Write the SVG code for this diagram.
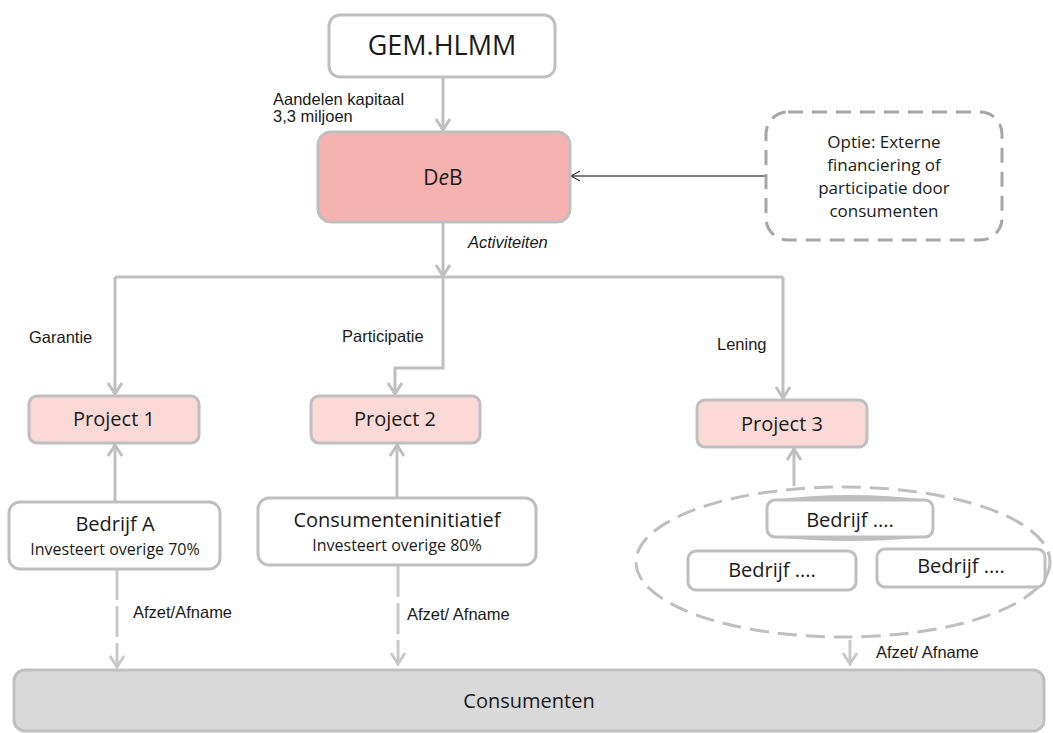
<svg xmlns="http://www.w3.org/2000/svg" width="1053" height="733" viewBox="0 0 1053 733">
<style>
.box{stroke:#bfbfbf;stroke-width:3}
.white{fill:#ffffff}
.pink{fill:#fad9d7}
.red{fill:#f5b2ae}
.grey{fill:#d9d9d9}
.t{font-family:"Open Sans","Noto Sans","DejaVu Sans",sans-serif;fill:#1a1a1a;text-anchor:middle}
.lbl{font-family:"Liberation Sans",Arial,sans-serif;font-size:16.5px;fill:#1a1a1a}
.con{fill:none;stroke:#bfbfbf;stroke-width:3;marker-end:url(#ah)}
.dash{fill:none;stroke:#c9c9c9;stroke-width:3;stroke-dasharray:31 6;marker-end:url(#ahl)}
</style>
<defs>
<marker id="ah" markerUnits="userSpaceOnUse" viewBox="-14 -10 16 20" refX="0" refY="0" markerWidth="16" markerHeight="20" orient="auto">
<path d="M-11,-7 L0,0 L-11,7" fill="none" stroke="#bfbfbf" stroke-width="3"/>
</marker>
<marker id="ahl" markerUnits="userSpaceOnUse" viewBox="-14 -10 16 20" refX="0" refY="0" markerWidth="16" markerHeight="20" orient="auto">
<path d="M-11,-7 L0,0 L-11,7" fill="none" stroke="#c9c9c9" stroke-width="3"/>
</marker>
<marker id="ahb" markerUnits="userSpaceOnUse" viewBox="-12 -8 14 16" refX="0" refY="0" markerWidth="14" markerHeight="16" orient="auto">
<path d="M-9,-5 L0,0 L-9,5" fill="none" stroke="#000" stroke-width="1"/>
</marker>
</defs>

<g id="connectors">
<line class="con" x1="443" y1="77" x2="443" y2="130"/>
<line class="con" x1="443" y1="222" x2="443" y2="276"/>
<polyline fill="none" stroke="#bfbfbf" stroke-width="3" points="115,277 783,277"/>
<line class="con" x1="115" y1="277" x2="115" y2="394"/>
<polyline class="con" points="443,277 443,368 395,368 395,394"/>
<line class="con" x1="783" y1="277" x2="783" y2="398"/>
<line class="con" x1="115" y1="502" x2="115" y2="445"/>
<line class="con" x1="397" y1="498" x2="397" y2="445"/>
<line class="con" x1="794" y1="486" x2="794" y2="449"/>
<line x1="765" y1="176" x2="571" y2="176" stroke="#000" stroke-width="1" marker-end="url(#ahb)"/>
<line class="dash" x1="117" y1="569" x2="117" y2="667"/>
<line class="dash" x1="398" y1="566" x2="398" y2="664"/>
<line class="dash" x1="850" y1="640" x2="850" y2="664"/>
</g>

<g id="labels">
<text class="lbl" x="273" y="105">Aandelen kapitaal</text>
<text class="lbl" x="273" y="122">3,3 miljoen</text>
<text class="lbl" x="468" y="248" font-style="italic">Activiteiten</text>
<text class="lbl" x="29" y="343">Garantie</text>
<text class="lbl" x="342" y="342">Participatie</text>
<text class="lbl" x="717" y="350">Lening</text>
<text class="lbl" x="133" y="618">Afzet/Afname</text>
<text class="lbl" x="407" y="620">Afzet/ Afname</text>
<text class="lbl" x="876" y="658">Afzet/ Afname</text>
</g>

<g id="gem">
<rect class="box white" x="329" y="15" width="226" height="62" rx="11"/>
<text class="t" x="442" y="55" font-size="27">GEM.HLMM</text>
</g>

<g id="deb">
<rect class="box red" x="318" y="132" width="252" height="90" rx="13"/>
<text class="t" x="443" y="185" font-size="21">D<tspan font-style="italic">e</tspan>B</text>
</g>

<g id="optie">
<rect x="766" y="112" width="236" height="128" rx="22" fill="#ffffff" stroke="#a6a6a6" stroke-width="3" stroke-dasharray="15 9"/>
<text class="t" x="884" y="148" font-size="17">Optie: Externe</text>
<text class="t" x="884" y="171" font-size="17">financiering of</text>
<text class="t" x="884" y="194" font-size="17">participatie door</text>
<text class="t" x="884" y="217" font-size="17">consumenten</text>
</g>

<g id="project1">
<rect class="box pink" x="29" y="396" width="170" height="47" rx="8"/>
<text class="t" x="114" y="426" font-size="20">Project 1</text>
</g>
<g id="project2">
<rect class="box pink" x="311" y="396" width="169" height="47" rx="8"/>
<text class="t" x="395" y="426" font-size="20">Project 2</text>
</g>
<g id="project3">
<rect class="box pink" x="697" y="400" width="170" height="47" rx="8"/>
<text class="t" x="782" y="431" font-size="20">Project 3</text>
</g>

<g id="bedrijfA">
<rect class="box white" x="9" y="502" width="211" height="67" rx="11"/>
<text class="t" x="115" y="531" font-size="20">Bedrijf A</text>
<text class="t" x="115" y="555" font-size="16">Investeert overige 70%</text>
</g>

<g id="consumenteninitiatief">
<rect class="box white" x="258" y="498" width="278" height="67" rx="11"/>
<text class="t" x="397" y="527" font-size="20">Consumenteninitiatief</text>
<text class="t" x="397" y="551" font-size="16">Investeert overige 80%</text>
</g>

<g id="bedrijven">
<ellipse cx="843" cy="562" rx="207" ry="75" fill="none" stroke="#bfbfbf" stroke-width="3" stroke-dasharray="19 9"/>
</g>

<g id="bedrijf1">
<rect class="box white" x="767" y="500" width="166" height="37" rx="8"/>
<path d="M772,500 Q850,490 928,500 Z" fill="#bfbfbf"/>
<path d="M772,537 Q850,545 928,537 Z" fill="#bfbfbf"/>
<text class="t" x="850" y="527" font-size="20">Bedrijf ....</text>
</g>
<g id="bedrijf2">
<rect class="box white" x="688" y="551" width="168" height="39" rx="8"/>
<text class="t" x="772" y="577" font-size="20">Bedrijf ....</text>
</g>
<g id="bedrijf3">
<rect class="box white" x="877" y="549" width="168" height="38" rx="8"/>
<text class="t" x="961" y="573" font-size="20">Bedrijf ....</text>
</g>

<g id="consumenten">
<rect class="box grey" x="14" y="670" width="1030" height="61" rx="11"/>
<text class="t" x="529" y="708" font-size="20">Consumenten</text>
</g>
</svg>
